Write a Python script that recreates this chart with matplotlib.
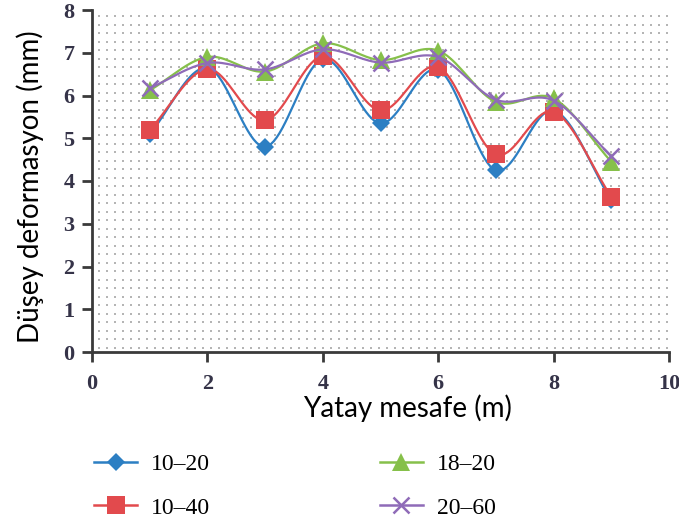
import numpy as np
import matplotlib
matplotlib.use("Agg")
import matplotlib.pyplot as plt
from matplotlib.lines import Line2D

# ---- data ----
x_vals = [1, 2, 3, 4, 5, 6, 7, 8, 9]
s_10_20 = [5.10, 6.65, 4.80, 6.85, 5.35, 6.60, 4.25, 5.65, 3.55]
s_10_40 = [5.19, 6.62, 5.42, 6.92, 5.65, 6.67, 4.62, 5.62, 3.63]
s_18_20 = [6.12, 6.90, 6.56, 7.22, 6.83, 7.05, 5.85, 5.93, 4.45]
s_20_60 = [6.17, 6.76, 6.61, 7.08, 6.77, 6.90, 5.90, 5.88, 4.58]
labels = ["10\u201320", "10\u201340", "18\u201320", "20\u201360"]
x_ticks = [0, 2, 4, 6, 8, 10]
y_ticks = [0, 1, 2, 3, 4, 5, 6, 7, 8]

colors = ["#2c7fc3", "#e24a4d", "#86c04a", "#8f6bb8"]
markers = ["D", "s", "^", "x"]
msizes = [9.5, 13, 13, 12]


def smooth(xs, ys, n=20):
    xs = np.asarray(xs, float)
    ys = np.asarray(ys, float)
    px = np.concatenate([[2 * xs[0] - xs[1]], xs, [2 * xs[-1] - xs[-2]]])
    py = np.concatenate([[2 * ys[0] - ys[1]], ys, [2 * ys[-1] - ys[-2]]])
    ox, oy = [], []
    t = np.linspace(0, 1, n, endpoint=False)
    for i in range(1, len(px) - 2):
        p0, p1, p2, p3 = py[i - 1], py[i], py[i + 1], py[i + 2]
        q0, q1, q2, q3 = px[i - 1], px[i], px[i + 1], px[i + 2]
        fy = 0.5 * ((2 * p1) + (-p0 + p2) * t + (2 * p0 - 5 * p1 + 4 * p2 - p3) * t**2 + (-p0 + 3 * p1 - 3 * p2 + p3) * t**3)
        fx = 0.5 * ((2 * q1) + (-q0 + q2) * t + (2 * q0 - 5 * q1 + 4 * q2 - q3) * t**2 + (-q0 + 3 * q1 - 3 * q2 + q3) * t**3)
        ox.extend(fx)
        oy.extend(fy)
    ox.append(xs[-1])
    oy.append(ys[-1])
    return np.array(ox), np.array(oy)


W, H = 679, 524
fig = plt.figure(figsize=(W / 100, H / 100), dpi=100)
ax = fig.add_axes([92 / W, 1 - 352 / H, 577 / W, 342 / H])

# dotted background pattern
gx = np.arange(0.012, 1.0, 8.0 / 577)
gy = np.arange(0.012, 1.0, 8.5 / 342)
GX, GY = np.meshgrid(gx, gy)
ax.scatter(GX.ravel(), GY.ravel(), s=1.5, c="#b5b5b5", marker="s", linewidths=0,
           transform=ax.transAxes, zorder=0)

series = [s_10_20, s_10_40, s_18_20, s_20_60]
handles = []
for i, (ys, c, m, ms, lab) in enumerate(zip(series, colors, markers, msizes, labels)):
    sx, sy = smooth(x_vals, ys)
    ax.plot(sx, sy, color=c, lw=1.6, zorder=2 + i)
    mew = 1.8 if m == "x" else 0
    ax.plot(x_vals, ys, linestyle="none", marker=m, markersize=ms, color=c,
            markeredgewidth=mew, zorder=2 + i)
    handles.append(Line2D([], [], color=c, lw=1.8, marker=m, markersize=ms,
                          markeredgewidth=mew, label=lab))

ax.set_xlim(0, 10)
ax.set_ylim(0, 8)
ax.set_xticks(x_ticks)
ax.set_yticks(y_ticks)
for s in ["top", "right"]:
    ax.spines[s].set_visible(False)
for s in ["left", "bottom"]:
    ax.spines[s].set_color("#3a3a3a")
    ax.spines[s].set_linewidth(2)
ax.tick_params(direction="out", length=7.5, width=2, color="#3a3a3a",
               labelsize=16, labelcolor="#353348", pad=5)
ax.tick_params(axis="x", pad=8)
for lab in ax.get_xticklabels() + ax.get_yticklabels():
    lab.set_family("Liberation Serif")
    lab.set_fontweight("bold")

ax.set_xlabel("Yatay mesafe (m)", fontsize=20, family="Lato")
ax.xaxis.set_label_coords(0.546, -0.125)
ax.set_ylabel("Düşey deformasyon (mm)", fontsize=20, family="Lato")
ax.yaxis.set_label_coords(-0.083, 0.482)

fig.legend(handles=handles, ncol=2, loc="upper left", bbox_to_anchor=(0.125, 0.152),
           frameon=False, handlelength=1.8, handletextpad=0.6, columnspacing=7.2,
           labelspacing=0.92, borderaxespad=0,
           prop={"family": "Liberation Serif", "size": 17})

fig.savefig("out.png", dpi=100)
